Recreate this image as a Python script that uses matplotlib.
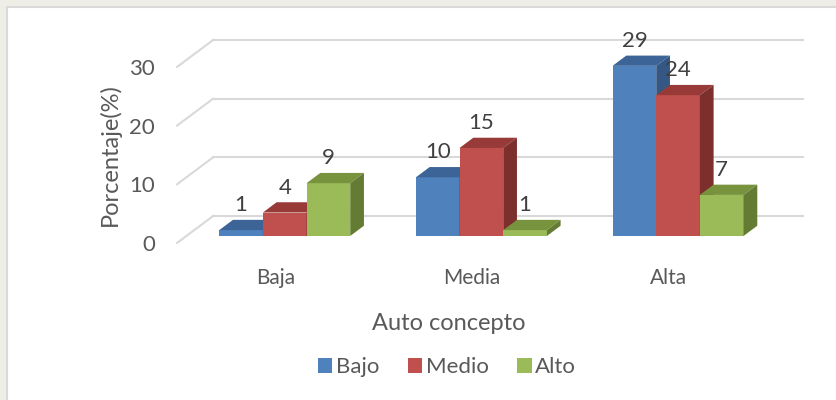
import matplotlib.pyplot as plt
from matplotlib.patches import Polygon, Rectangle

# data
categories = ['Baja', 'Media', 'Alta']
series = ['Bajo', 'Medio', 'Alto']
bajo = [1, 10, 29]
medio = [4, 15, 24]
alto = [9, 1, 7]
yticks = [0, 10, 20, 30]

front = ['#4F81BD', '#C0504D', '#9BBB59']
top = ['#3D6496', '#973A38', '#77933D']
side = ['#345784', '#7D2F2D', '#637B33']
txt = '#595959'

plt.rcParams['font.family'] = ['Lato', 'DejaVu Sans']

# fake 3d projection: depth d in [0, 1] shifts (DX, DY) in data units
DX = 36 / 196
DY = 27 / 5.867
d0, d1 = 0.26, 0.64
w = 0.222

fig = plt.figure(figsize=(8.36, 4.0), dpi=100)
fig.patch.set_facecolor('white')
# faint strip outside the chart area + chart border
fig.add_artist(Rectangle((0, 0), 1, 1, transform=fig.transFigure,
                         facecolor='#eeeee7', edgecolor='none', zorder=-3))
fig.add_artist(Rectangle((7 / 836, -0.1), 1, (393 / 400) + 0.1, transform=fig.transFigure,
                         facecolor='white', edgecolor='#d9d9d9', lw=1.5, zorder=-2))

ax = fig.add_axes([177 / 836, (400 - 243) / 400, 590 / 836, 176 / 400])
ax.set_xlim(-0.5, 2.5)
ax.set_ylim(0, 30)
ax.patch.set_alpha(0)
for s in ax.spines.values():
    s.set_visible(False)

# walls / gridlines
for v in yticks:
    ax.plot([-0.5, -0.5 + DX], [v, v + DY], color='#d9d9d9', lw=1.5, clip_on=False, zorder=1)
    ax.plot([-0.5 + DX, 2.5 + DX], [v + DY, v + DY], color='#d9d9d9', lw=1.5, clip_on=False, zorder=1)

vals = [bajo, medio, alto]
z = 2
for ci in range(len(categories)):
    for si in range(len(series)):
        v = vals[si][ci]
        xl = ci + (si - 1.5) * w + d0 * DX
        b = d0 * DY
        ax.bar(xl, v, width=w, bottom=b, align='edge', color=front[si],
               clip_on=False, zorder=z)
        ox, oy = (d1 - d0) * DX, (d1 - d0) * DY
        ax.add_patch(Polygon([(xl, b + v), (xl + w, b + v), (xl + w + ox, b + v + oy),
                              (xl + ox, b + v + oy)], closed=True, facecolor=top[si],
                             edgecolor='none', clip_on=False, zorder=z))
        ax.add_patch(Polygon([(xl + w, b), (xl + w + ox, b + oy), (xl + w + ox, b + v + oy),
                              (xl + w, b + v)], closed=True, facecolor=side[si],
                             edgecolor='none', clip_on=False, zorder=z))
        ax.annotate(str(v), (xl + w / 2, b + v), xytext=(0, 18), textcoords='offset points',
                    ha='center', va='center', fontsize=16, color='#404040',
                    annotation_clip=False, zorder=z + 1)
        z += 1

ax.set_yticks(yticks)
ax.set_xticks(range(len(categories)))
ax.set_xticklabels(categories)
ax.tick_params(axis='y', length=0, pad=16, labelsize=16, labelcolor=txt)
ax.tick_params(axis='x', length=0, pad=18, labelsize=15, labelcolor=txt)
ax.set_ylabel('Porcentaje(%)', fontsize=17, color=txt, labelpad=6)
ax.set_xlabel('Auto concepto', fontsize=17, color=txt)
ax.xaxis.set_label_coords(0.461, -0.40)

handles = [Rectangle((0, 0), 1, 1, facecolor=c) for c in front]
fig.legend(handles, series, loc='center', bbox_to_anchor=(447 / 836, 1 - 367 / 400),
           ncol=3, frameon=False, fontsize=16, handlelength=0.65, handleheight=0.65,
           handletextpad=0.15, columnspacing=1.3, labelcolor=txt)

fig.savefig('out.png', dpi=100)
